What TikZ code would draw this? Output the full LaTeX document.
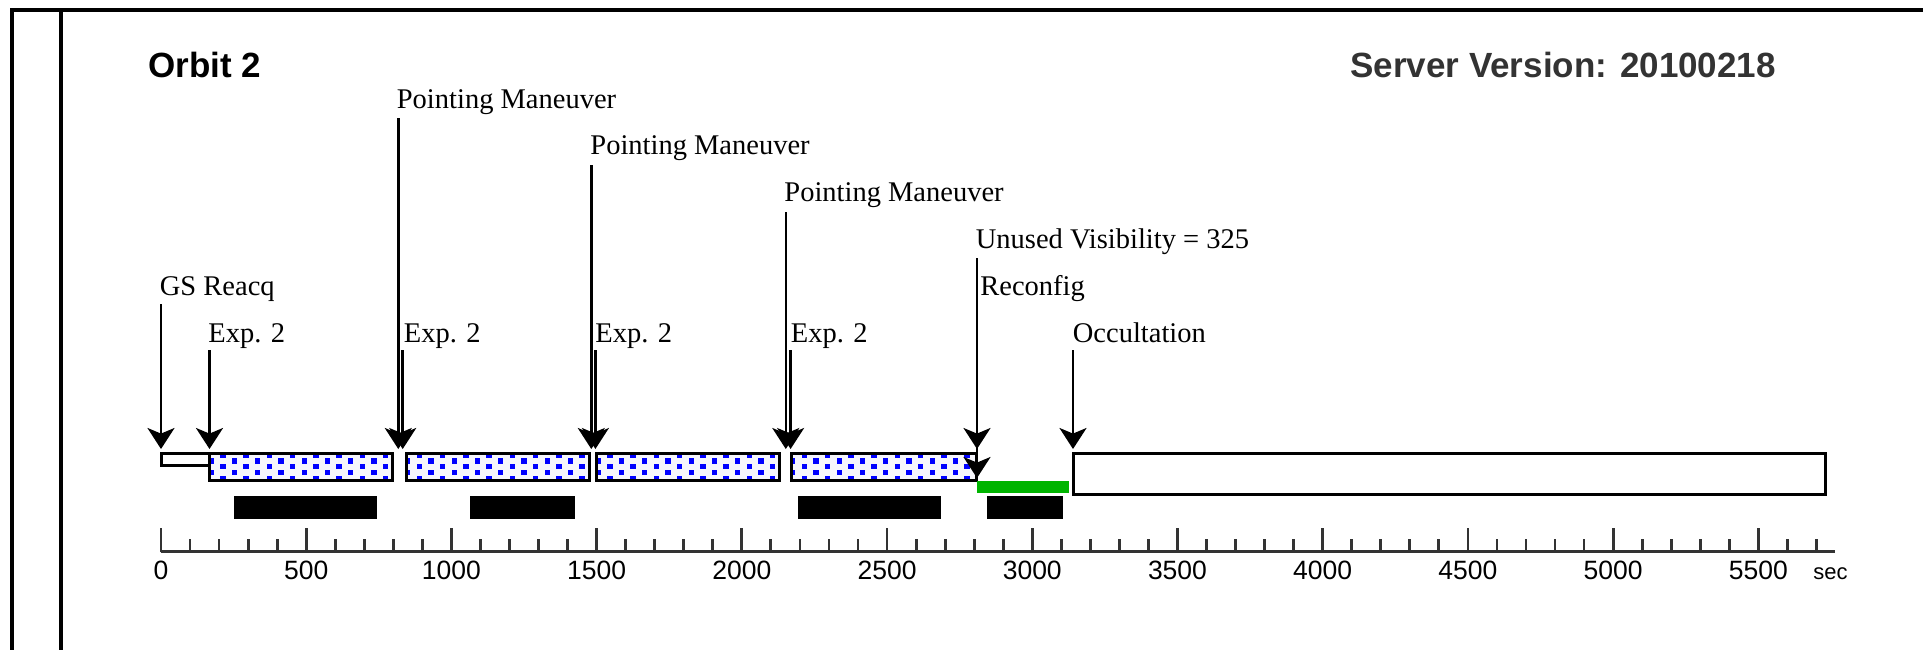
\documentclass[tikz,border=0pt]{standalone}
\usepackage{fontspec}
\setmainfont{Liberation Serif}
\newfontfamily\sansf{Liberation Sans}
\usetikzlibrary{arrows.meta}
\definecolor{dkgray}{RGB}{51,51,51}
\definecolor{vgreen}{RGB}{0,180,0}
\definecolor{dotblue}{RGB}{0,0,255}
\definecolor{hbg}{RGB}{246,246,252}
\begin{document}
\begin{tikzpicture}[x=0.5pt,y=-0.5pt,
  lbl/.style={anchor=base west, inner sep=0pt, font=\fontsize{14.25}{16}\selectfont},
  evt/.style={line width=1.3pt, -{Stealth[length=10.5pt,width=13.5pt,inset=2.8pt]}},
  boxline/.style={line width=1.5pt},
  axlab/.style={anchor=base, inner sep=0pt, font=\sansf\fontsize{13.25}{15}\selectfont},
  ticksty/.style={dkgray, line width=1.4pt},
  title/.style={anchor=base west, inner sep=0pt, font=\sansf\bfseries\fontsize{17.5}{20}\selectfont}]
\useasboundingbox (0,0) rectangle (1923,650);
\fill[white] (0,0) rectangle (1923,650);
% frame
\draw[line width=2pt] (10,9.5) -- (1923,9.5);
\draw[line width=2pt] (11.5,8) -- (11.5,650);
\draw[line width=2pt] (60.5,9.5) -- (60.5,650);
% titles
\node[title] (orbit) at (148,77) {Orbit 2};
\node[title, text=dkgray] (server) at (1350,77) {Server Version: 20100218};
% event labels
\node[lbl] (pm1) at (396.5,108) {Pointing Maneuver};
\node[lbl] (pm2) at (590,154.5) {Pointing Maneuver};
\node[lbl] (pm3) at (784,201) {Pointing Maneuver};
\node[lbl] (unused) at (975.5,248) {Unused Visibility = 325};
\node[lbl] (gsr) at (159.5,295) {GS Reacq};
\node[lbl] (recfg) at (980,295) {Reconfig};
\node[lbl] (exp1) at (208,342) {Exp. 2};
\node[lbl] (exp2) at (403.5,342) {Exp. 2};
\node[lbl] (exp3) at (595,342) {Exp. 2};
\node[lbl] (exp4) at (790.5,342) {Exp. 2};
\node[lbl] (occ) at (1072.5,342) {Occultation};
% small white box
\draw[boxline, fill=white] (161,453.5) rectangle (209.5,465.5);
% hatched boxes
\foreach \l/\r in {209.5/392, 406/589, 596.5/779.5, 791/976} {
  \fill[hbg] (\l,453.5) rectangle (\r,480.5);
  \begin{scope}
    \clip (\l,453.5) rectangle (\r,480.5);
    \foreach \k in {0,...,8} {
      \foreach \row/\off in {455/13.3, 460.8/1.7, 466.6/13.3, 472.4/1.7, 478.2/13.3} {
        \fill[dotblue] ({\l+\off+23.26*\k-2.7},{\row-2.7}) rectangle ++(5.4,5.4);
      }
    }
  \end{scope}
  \draw[boxline] (\l,453.5) rectangle (\r,480.5);
}
% occultation white box
\draw[boxline] (1073.5,453.5) rectangle (1825,494);
% green bar
\fill[vgreen] (977,481) rectangle (1069,493);
% black bars
\fill (234,496) rectangle (377,519);
\fill (470,496) rectangle (575,519);
\fill (798,496) rectangle (941,519);
\fill (987,496) rectangle (1063,519);
% event arrows
\foreach \n/\xx/\ya/\yb in {gsr/161/304/449, exp1/209.5/350/449, pm1/398.3/118/449,
  exp2/402.7/350/449, pm2/591.3/165/449, exp3/595.4/350/449, pm3/785.8/212/449,
  exp4/790.6/350/449, unused/977/258/449, recfg/977/304/478, occ/1073/350/449} {
  \coordinate (\n-s) at (\xx,\ya);
  \coordinate (\n-e) at (\xx,\yb);
  \draw[evt] (\n-s) -- (\n-e);
}
% axis
\draw[dkgray, line width=1.5pt] (161,551.5) -- (1835,551.5);
\foreach \t in {0,100,...,5700} {
  \draw[ticksty] ({161+0.29042*\t},552) -- ++(0,-13);
}
\foreach \t in {0,500,...,5500} {
  \draw[ticksty] ({161+0.29042*\t},552) -- ++(0,-24);
  \node[axlab] (lab\t) at ({161+0.29042*\t},579) {\t};
}
\node[anchor=base west, inner sep=0pt, font=\sansf\fontsize{11}{12}\selectfont] (secl) at (1813,579) {sec};
\end{tikzpicture}
\end{document}
